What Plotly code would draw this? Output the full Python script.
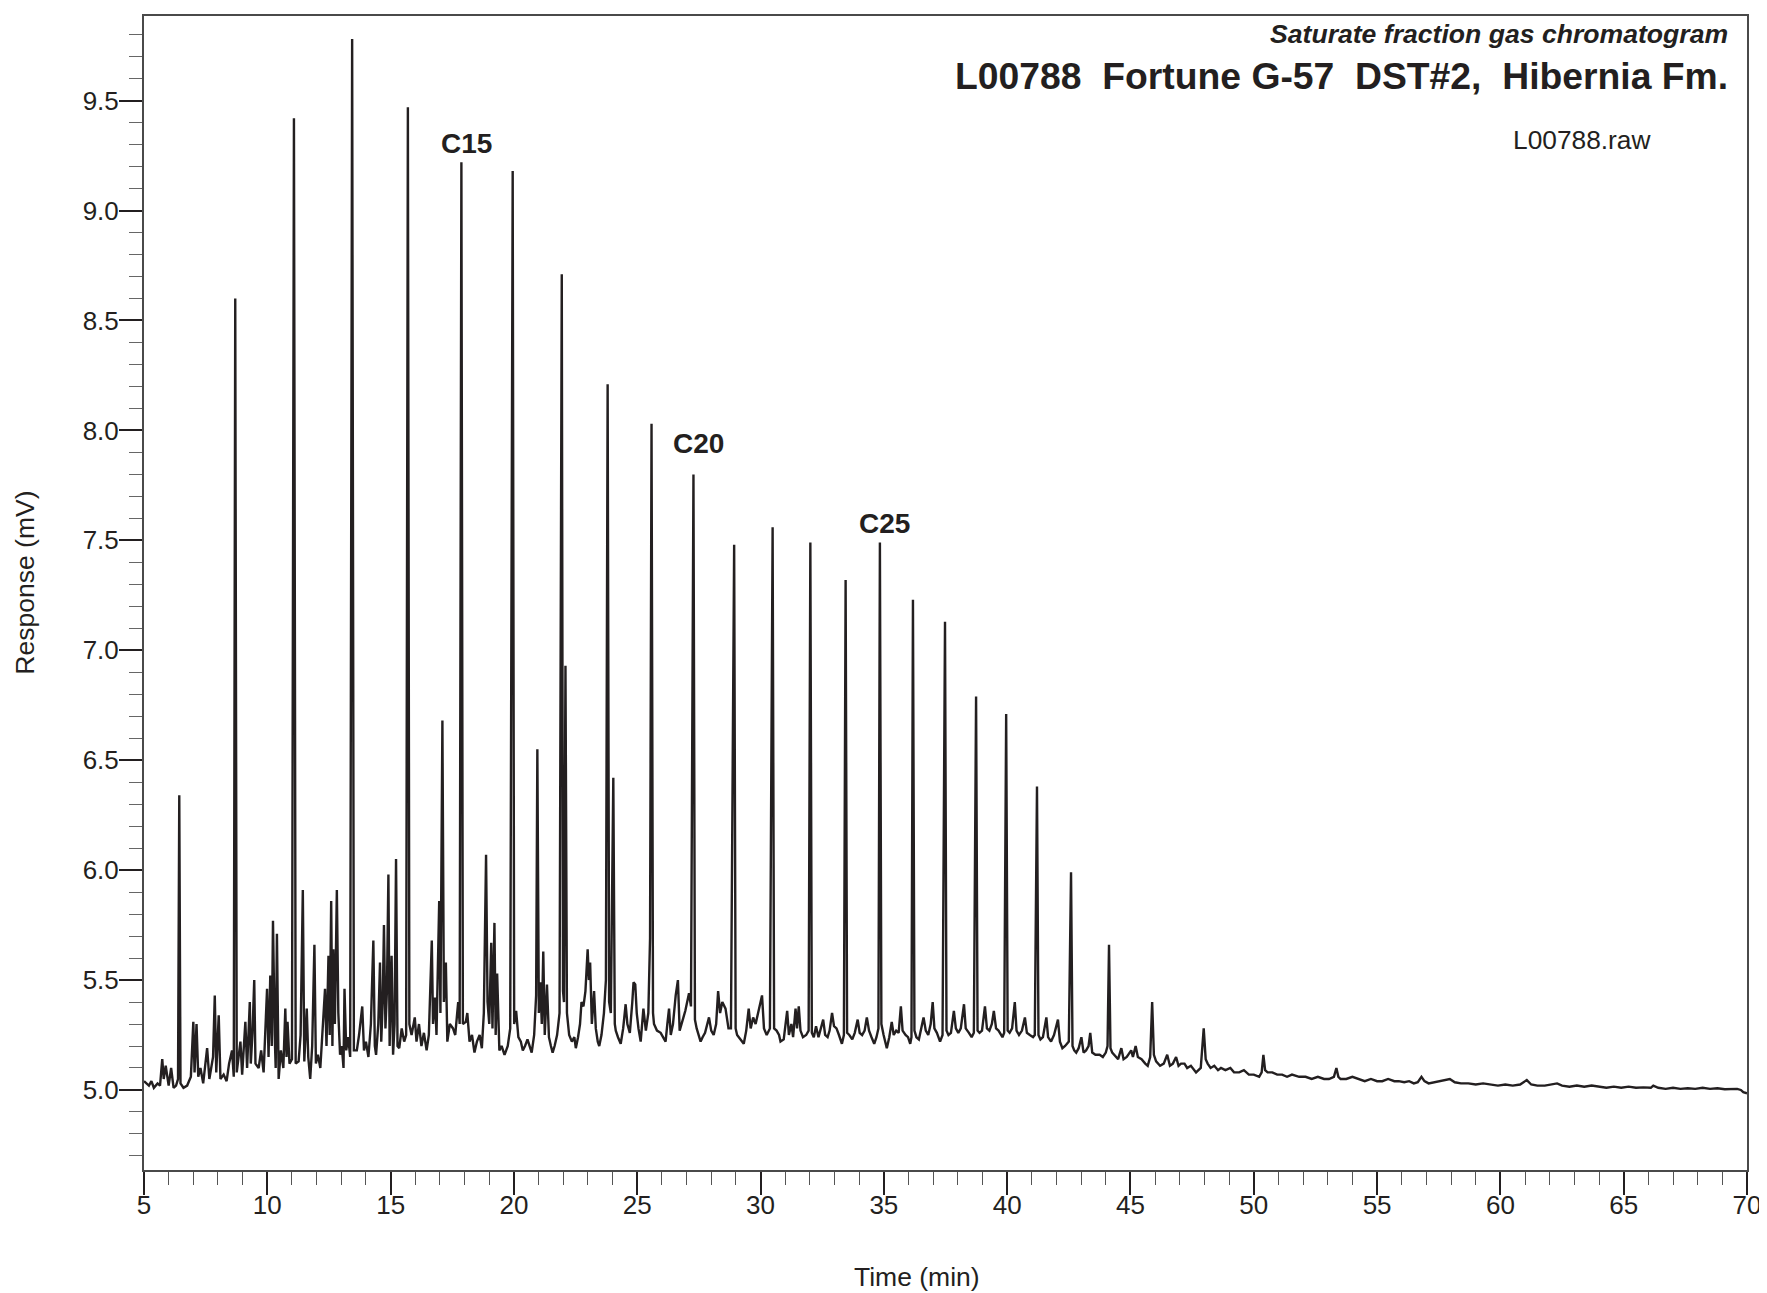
import plotly.graph_objects as go

# Retention time (min) and detector response (mV)
time_min = [
    5.00, 5.10, 5.20, 5.30, 5.40, 5.55, 5.65, 5.74, 5.80, 5.88,
    6.00, 6.10, 6.20, 6.30, 6.38, 6.43, 6.48, 6.60, 6.75, 6.90,
    7.00, 7.05, 7.13, 7.20, 7.29, 7.40, 7.56, 7.65, 7.80, 7.87,
    7.93, 8.03, 8.10, 8.23, 8.35, 8.45, 8.57, 8.64, 8.70, 8.76,
    8.91, 8.98, 9.11, 9.18, 9.29, 9.33, 9.40, 9.47, 9.52, 9.65,
    9.75, 9.85, 9.99, 10.05, 10.12, 10.18, 10.23, 10.30, 10.34, 10.39,
    10.46, 10.55, 10.65, 10.73, 10.78, 10.82, 10.90, 11.00, 11.08, 11.15,
    11.27, 11.35, 11.44, 11.50, 11.60, 11.66, 11.74, 11.82, 11.91, 11.97,
    12.05, 12.15, 12.25, 12.34, 12.40, 12.48, 12.53, 12.59, 12.64, 12.68,
    12.74, 12.82, 12.88, 12.95, 13.02, 13.09, 13.13, 13.20, 13.28, 13.36,
    13.44, 13.51, 13.63, 13.72, 13.85, 13.92, 14.00, 14.10, 14.20, 14.30,
    14.36, 14.41, 14.50, 14.57, 14.62, 14.68, 14.73, 14.79, 14.85, 14.91,
    14.96, 15.04, 15.10, 15.16, 15.22, 15.28, 15.35, 15.45, 15.55, 15.63,
    15.70, 15.76, 15.85, 15.98, 16.05, 16.15, 16.25, 16.35, 16.46, 16.55,
    16.67, 16.72, 16.80, 16.86, 16.97, 17.02, 17.10, 17.16, 17.24, 17.30,
    17.40, 17.53, 17.62, 17.74, 17.80, 17.87, 17.93, 18.05, 18.11, 18.20,
    18.30, 18.40, 18.50, 18.61, 18.70, 18.78, 18.87, 18.93, 19.00, 19.08,
    19.13, 19.21, 19.26, 19.32, 19.41, 19.50, 19.62, 19.75, 19.85, 19.95,
    20.01, 20.09, 20.18, 20.28, 20.36, 20.45, 20.55, 20.65, 20.72, 20.82,
    20.90, 20.95, 21.01, 21.07, 21.13, 21.19, 21.25, 21.34, 21.42, 21.50,
    21.57, 21.65, 21.75, 21.85, 21.94, 21.99, 22.03, 22.09, 22.15, 22.24,
    22.35, 22.45, 22.51, 22.60, 22.68, 22.74, 22.82, 22.90, 22.99, 23.04,
    23.09, 23.16, 23.25, 23.32, 23.40, 23.46, 23.55, 23.65, 23.73, 23.80,
    23.86, 23.93, 24.03, 24.09, 24.13, 24.22, 24.33, 24.43, 24.53, 24.60,
    24.70, 24.80, 24.85, 24.92, 24.98, 25.05, 25.14, 25.25, 25.35, 25.45,
    25.52, 25.58, 25.64, 25.68, 25.80, 25.95, 26.05, 26.15, 26.22, 26.29,
    26.36, 26.45, 26.56, 26.65, 26.72, 26.85, 26.95, 27.10, 27.18, 27.28,
    27.34, 27.41, 27.50, 27.57, 27.65, 27.75, 27.91, 28.00, 28.10, 28.20,
    28.28, 28.36, 28.45, 28.58, 28.70, 28.80, 28.93, 28.99, 29.05, 29.18,
    29.32, 29.42, 29.52, 29.60, 29.70, 29.80, 29.90, 30.06, 30.14, 30.25,
    30.38, 30.49, 30.55, 30.65, 30.75, 30.81, 30.94, 31.08, 31.15, 31.25,
    31.32, 31.42, 31.48, 31.55, 31.62, 31.72, 31.85, 31.95, 32.02, 32.08,
    32.16, 32.25, 32.35, 32.45, 32.54, 32.62, 32.72, 32.80, 32.90, 32.98,
    33.08, 33.18, 33.30, 33.38, 33.45, 33.51, 33.60, 33.72, 33.82, 33.94,
    34.02, 34.12, 34.22, 34.31, 34.40, 34.50, 34.61, 34.70, 34.78, 34.84,
    34.90, 34.99, 35.05, 35.12, 35.22, 35.32, 35.40, 35.50, 35.60, 35.69,
    35.76, 35.88, 35.98, 36.07, 36.12, 36.18, 36.24, 36.32, 36.42, 36.52,
    36.61, 36.70, 36.80, 36.90, 36.98, 37.05, 37.15, 37.28, 37.38, 37.48,
    37.54, 37.62, 37.72, 37.84, 37.92, 38.02, 38.12, 38.25, 38.32, 38.45,
    38.56, 38.65, 38.74, 38.80, 38.88, 38.98, 39.10, 39.18, 39.28, 39.38,
    39.46, 39.55, 39.65, 39.81, 39.88, 39.96, 40.02, 40.10, 40.20, 40.31,
    40.38, 40.48, 40.60, 40.72, 40.80, 40.92, 41.05, 41.12, 41.21, 41.27,
    41.35, 41.45, 41.59, 41.66, 41.78, 41.90, 42.06, 42.14, 42.24, 42.35,
    42.50, 42.59, 42.65, 42.72, 42.80, 42.90, 43.01, 43.10, 43.20, 43.30,
    43.37, 43.45, 43.58, 43.75, 43.88, 44.00, 44.07, 44.13, 44.19, 44.26,
    44.40, 44.50, 44.63, 44.72, 44.85, 45.03, 45.10, 45.21, 45.30, 45.45,
    45.60, 45.70, 45.80, 45.88, 45.95, 46.04, 46.20, 46.35, 46.49, 46.60,
    46.72, 46.85, 46.95, 47.05, 47.19, 47.30, 47.45, 47.66, 47.85, 47.97,
    48.05, 48.13, 48.25, 48.40, 48.55, 48.67, 48.85, 49.05, 49.20, 49.41,
    49.60, 49.80, 50.00, 50.22, 50.32, 50.39, 50.46, 50.56, 50.75, 50.95,
    51.15, 51.35, 51.55, 51.84, 52.10, 52.35, 52.60, 52.85, 53.05, 53.25,
    53.35, 53.43, 53.52, 53.75, 54.00, 54.26, 54.50, 54.75, 55.00, 55.21,
    55.45, 55.70, 55.88, 56.10, 56.30, 56.49, 56.65, 56.80, 56.92, 57.09,
    57.30, 57.55, 57.80, 57.95, 58.15, 58.40, 58.70, 59.00, 59.30, 59.60,
    59.90, 60.20, 60.50, 60.80, 61.07, 61.25, 61.50, 61.80, 62.10, 62.30,
    62.50, 62.80, 63.10, 63.40, 63.70, 64.00, 64.30, 64.60, 64.90, 65.20,
    65.50, 65.80, 66.10, 66.20, 66.40, 66.70, 67.00, 67.30, 67.60, 67.90,
    68.20, 68.50, 68.80, 69.10, 69.40, 69.60, 69.75, 69.85, 70.00,
]

response_mv = [
    5.04, 5.03, 5.02, 5.04, 5.01, 5.03, 5.02, 5.14, 5.05, 5.11,
    5.02, 5.10, 5.01, 5.02, 5.05, 6.34, 5.03, 5.01, 5.02, 5.06,
    5.31, 5.08, 5.30, 5.06, 5.10, 5.03, 5.19, 5.05, 5.15, 5.43,
    5.08, 5.34, 5.05, 5.07, 5.04, 5.12, 5.18, 5.06, 8.60, 5.08,
    5.22, 5.07, 5.31, 5.10, 5.40, 5.12, 5.26, 5.50, 5.12, 5.10,
    5.18, 5.08, 5.46, 5.15, 5.52, 5.20, 5.77, 5.25, 5.10, 5.71,
    5.05, 5.18, 5.10, 5.37, 5.15, 5.31, 5.12, 5.14, 9.42, 5.12,
    5.13, 5.25, 5.91, 5.13, 5.37, 5.15, 5.05, 5.20, 5.66, 5.12,
    5.16, 5.10, 5.30, 5.46, 5.20, 5.61, 5.25, 5.86, 5.20, 5.64,
    5.30, 5.91, 5.35, 5.16, 5.20, 5.10, 5.46, 5.18, 5.24, 5.15,
    9.78, 5.18, 5.18, 5.25, 5.38, 5.18, 5.22, 5.15, 5.30, 5.68,
    5.20, 5.16, 5.30, 5.58, 5.22, 5.40, 5.75, 5.28, 5.45, 5.98,
    5.20, 5.61, 5.16, 5.30, 6.05, 5.20, 5.19, 5.28, 5.22, 5.25,
    9.47, 5.30, 5.25, 5.33, 5.22, 5.30, 5.20, 5.26, 5.18, 5.25,
    5.68, 5.30, 5.42, 5.25, 5.86, 5.35, 6.68, 5.40, 5.58, 5.22,
    5.30, 5.28, 5.25, 5.40, 5.30, 9.22, 5.30, 5.31, 5.35, 5.22,
    5.25, 5.17, 5.22, 5.25, 5.19, 5.35, 6.07, 5.40, 5.30, 5.67,
    5.28, 5.76, 5.25, 5.53, 5.18, 5.20, 5.16, 5.20, 5.28, 9.18,
    5.30, 5.36, 5.24, 5.22, 5.18, 5.20, 5.23, 5.19, 5.17, 5.25,
    5.43, 6.55, 5.35, 5.49, 5.30, 5.63, 5.25, 5.48, 5.24, 5.20,
    5.17, 5.20, 5.25, 5.35, 8.71, 5.45, 5.40, 6.93, 5.35, 5.25,
    5.22, 5.24, 5.19, 5.24, 5.30, 5.40, 5.38, 5.45, 5.64, 5.50,
    5.58, 5.30, 5.45, 5.28, 5.22, 5.20, 5.25, 5.35, 5.50, 8.21,
    5.40, 5.35, 6.42, 5.30, 5.27, 5.24, 5.21, 5.28, 5.39, 5.30,
    5.26, 5.40, 5.49, 5.48, 5.35, 5.28, 5.22, 5.37, 5.27, 5.35,
    5.69, 8.03, 5.35, 5.30, 5.27, 5.26, 5.24, 5.22, 5.30, 5.37,
    5.25, 5.30, 5.43, 5.50, 5.27, 5.32, 5.36, 5.44, 5.38, 7.80,
    5.32, 5.28, 5.25, 5.22, 5.24, 5.26, 5.33, 5.27, 5.25, 5.30,
    5.45, 5.35, 5.40, 5.37, 5.28, 5.28, 7.48, 5.28, 5.25, 5.23,
    5.21, 5.27, 5.37, 5.28, 5.33, 5.30, 5.35, 5.43, 5.28, 5.25,
    5.28, 7.56, 5.28, 5.27, 5.25, 5.22, 5.23, 5.36, 5.25, 5.30,
    5.24, 5.37, 5.28, 5.38, 5.27, 5.24, 5.25, 5.27, 7.49, 5.26,
    5.24, 5.29, 5.24, 5.28, 5.32, 5.25, 5.24, 5.27, 5.35, 5.29,
    5.28, 5.25, 5.21, 5.25, 7.32, 5.26, 5.25, 5.23, 5.26, 5.32,
    5.26, 5.25, 5.27, 5.33, 5.27, 5.24, 5.21, 5.24, 5.28, 7.49,
    5.30, 5.25, 5.22, 5.19, 5.24, 5.31, 5.25, 5.27, 5.26, 5.38,
    5.27, 5.25, 5.24, 5.21, 5.24, 7.23, 5.27, 5.24, 5.23, 5.28,
    5.33, 5.27, 5.25, 5.30, 5.40, 5.28, 5.26, 5.22, 5.25, 7.13,
    5.27, 5.25, 5.26, 5.36, 5.28, 5.26, 5.28, 5.39, 5.28, 5.26,
    5.24, 5.26, 6.79, 5.27, 5.26, 5.27, 5.38, 5.28, 5.27, 5.30,
    5.36, 5.28, 5.27, 5.24, 5.26, 6.71, 5.27, 5.26, 5.28, 5.40,
    5.27, 5.25, 5.27, 5.33, 5.26, 5.25, 5.24, 5.25, 6.38, 5.25,
    5.23, 5.24, 5.33, 5.24, 5.22, 5.25, 5.32, 5.22, 5.19, 5.20,
    5.22, 5.99, 5.20, 5.18, 5.17, 5.19, 5.24, 5.17, 5.18, 5.20,
    5.26, 5.17, 5.16, 5.16, 5.15, 5.17, 5.20, 5.66, 5.19, 5.17,
    5.15, 5.14, 5.19, 5.14, 5.15, 5.18, 5.15, 5.20, 5.15, 5.14,
    5.12, 5.11, 5.15, 5.40, 5.16, 5.13, 5.11, 5.12, 5.16, 5.11,
    5.12, 5.15, 5.11, 5.12, 5.12, 5.10, 5.11, 5.08, 5.10, 5.28,
    5.14, 5.12, 5.10, 5.11, 5.09, 5.10, 5.09, 5.10, 5.08, 5.08,
    5.09, 5.07, 5.07, 5.06, 5.08, 5.16, 5.09, 5.08, 5.08, 5.07,
    5.07, 5.06, 5.07, 5.06, 5.06, 5.05, 5.06, 5.05, 5.05, 5.06,
    5.10, 5.06, 5.05, 5.05, 5.06, 5.05, 5.04, 5.05, 5.04, 5.04,
    5.05, 5.04, 5.04, 5.035, 5.04, 5.03, 5.035, 5.06, 5.04, 5.03,
    5.035, 5.04, 5.045, 5.05, 5.035, 5.03, 5.03, 5.025, 5.03, 5.025,
    5.02, 5.025, 5.02, 5.025, 5.045, 5.025, 5.02, 5.02, 5.025, 5.03,
    5.02, 5.015, 5.02, 5.015, 5.02, 5.015, 5.01, 5.015, 5.01, 5.015,
    5.01, 5.012, 5.01, 5.02, 5.01, 5.005, 5.01, 5.005, 5.008, 5.005,
    5.01, 5.005, 5.008, 5.003, 5.006, 5.005, 5.00, 4.99, 4.985,
]

# Labelled n-alkane peaks
alkane_labels = ["C15", "C20", "C25"]
alkane_times = [17.87, 27.28, 34.84]
alkane_heights = [9.22, 7.80, 7.49]

x_tick_values = [5, 10, 15, 20, 25, 30, 35, 40, 45, 50, 55, 60, 65, 70]
y_tick_values = [5.0, 5.5, 6.0, 6.5, 7.0, 7.5, 8.0, 8.5, 9.0, 9.5]

assert len(time_min) == len(response_mv)

INK = "#231f20"
FONT = "Liberation Sans, Arial, sans-serif"

fig = go.Figure()
fig.add_trace(go.Scatter(
    x=time_min, y=response_mv, mode="lines",
    line=dict(color=INK, width=2.4), hoverinfo="skip", showlegend=False,
))

# pixel offsets of the peak labels (styling only)
label_yshift = {"C15": 1, "C20": 13, "C25": 2}
for lab, t, h in zip(alkane_labels, alkane_times, alkane_heights):
    fig.add_annotation(x=t, y=h, text=f"<b>{lab}</b>", showarrow=False,
                       xanchor="center", yanchor="bottom", xshift=5,
                       yshift=label_yshift[lab],
                       font=dict(family=FONT, size=28, color=INK))

fig.add_annotation(xref="paper", yref="paper", x=0.9896, y=0.9847,
                   text="<b><i>Saturate fraction gas chromatogram</i></b>",
                   showarrow=False, xanchor="right", yanchor="middle",
                   font=dict(family=FONT, size=26.6, color=INK))
fig.add_annotation(xref="paper", yref="paper", x=0.9896, y=0.948,
                   text="<b>L00788  Fortune G-57  DST#2,  Hibernia Fm.</b>",
                   showarrow=False, xanchor="right", yanchor="middle",
                   font=dict(family=FONT, size=37.3, color=INK))
fig.add_annotation(xref="paper", yref="paper", x=0.9416, y=0.8927,
                   text="L00788.raw", showarrow=False,
                   xanchor="right", yanchor="middle",
                   font=dict(family=FONT, size=26.3, color=INK))
fig.add_annotation(xref="paper", yref="paper", x=-0.0743, y=0.5089,
                   text="Response (mV)", textangle=-90, showarrow=False,
                   xanchor="center", yanchor="middle",
                   font=dict(family=FONT, size=26.5, color=INK))
fig.add_annotation(xref="paper", yref="paper", x=0.4825, y=-0.0928,
                   text="Time (min)", showarrow=False,
                   xanchor="center", yanchor="middle",
                   font=dict(family=FONT, size=26.5, color=INK))

fig.update_xaxes(
    range=[5, 70], tickmode="array", tickvals=x_tick_values,
    ticktext=[str(v) for v in x_tick_values],
    ticks="outside", ticklen=23, tickwidth=1.5, tickcolor=INK,
    ticklabelstandoff=-12,
    minor=dict(dtick=1, tick0=5, ticks="outside", ticklen=13, tickwidth=1.3,
               tickcolor="#555555", showgrid=False),
    showgrid=False, zeroline=False, showline=True, mirror=True,
    linecolor="#4a4a4a", linewidth=2,
    tickfont=dict(family=FONT, size=26, color=INK),
)
fig.update_yaxes(
    range=[4.636, 9.885], tickmode="array", tickvals=y_tick_values,
    ticktext=[f"{v:.1f}" for v in y_tick_values],
    ticks="outside", ticklen=23, tickwidth=1.5, tickcolor=INK,
    ticklabelstandoff=-5,
    minor=dict(dtick=0.1, tick0=5.0, ticks="outside", ticklen=13, tickwidth=1.3,
               tickcolor="#666666", showgrid=False),
    showgrid=False, zeroline=False, showline=True, mirror=True,
    linecolor="#4a4a4a", linewidth=2,
    tickfont=dict(family=FONT, size=26, color=INK),
)

fig.update_layout(
    width=1767, height=1293,
    margin=dict(l=136, r=28, t=6, b=131),
    paper_bgcolor="white", plot_bgcolor="white",
    font=dict(family=FONT, color=INK),
)

fig.write_html("out.html")
